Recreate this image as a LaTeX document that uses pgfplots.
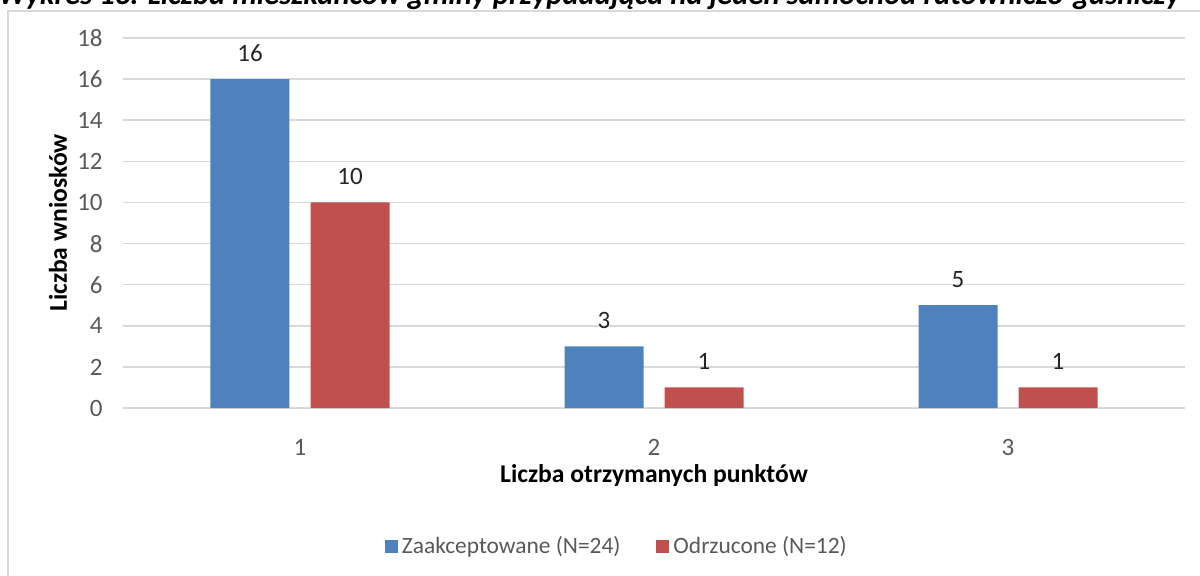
\documentclass[border=0pt]{standalone}
\usepackage{fontspec}
\setmainfont{Carlito}
\usepackage{pgfplots}
\pgfplotsset{compat=1.18}
\definecolor{zblue}{HTML}{4F81BD}
\definecolor{zred}{HTML}{C0504D}
\definecolor{gridgray}{HTML}{D9D9D9}
\definecolor{labgray}{HTML}{595959}
\definecolor{ink}{HTML}{262626}

\begin{document}
\begin{tikzpicture}
\useasboundingbox (0,0) rectangle (600pt,287.5pt);
\clip (0,0) rectangle (600pt,287.5pt);
% caption cut off by the frame above
\node[anchor=base west, inner sep=0pt, font=\fontsize{15.3}{17}\selectfont\bfseries\itshape]
  at (-1pt,285.5pt) {Wykres 13. Liczba mieszkańców gminy przypadająca na jeden samochód ratowniczo-gaśniczy};
\draw[gridgray, line width=1pt] (3.75pt,-5pt) -- (3.75pt,282.25pt) -- (610pt,282.25pt);
\begin{axis}[
  at={(61.5pt,83.5pt)}, anchor=south west,
  scale only axis, width=531pt, height=185pt,
  ybar=10.5pt, bar width=39.5pt,
  xmin=0.5, xmax=3.5, ymin=0, ymax=18,
  xtick={1,2,3}, ytick={0,2,...,18},
  axis line style={draw=none}, major tick length=0pt,
  ymajorgrids, grid style={gridgray, line width=0.75pt},
  /pgf/number format/assume math mode=true,
  tick label style={font=\fontsize{12.5}{14}\selectfont, color=labgray},
  yticklabel style={anchor=east, inner sep=0pt, xshift=-10pt},
  xticklabel style={anchor=center, inner sep=0pt, yshift=-19.5pt},
  xlabel={Liczba otrzymanych punktów},
  ylabel={Liczba wniosków},
  every axis x label/.style={at={(axis description cs:0.5,-0.1838)}, anchor=center, font=\fontsize{12.8}{14}\selectfont\bfseries},
  every axis y label/.style={at={(axis description cs:-0.0612,0.5)}, rotate=90, anchor=center, font=\fontsize{12.8}{14}\selectfont\bfseries},
  nodes near coords,
  every node near coord/.append style={font=\fontsize{12.5}{14}\selectfont, color=ink, anchor=center, yshift=13pt},
  legend columns=2,
  legend style={at={(0.466,-0.373)}, anchor=center, draw=none, fill=none,
    font=\fontsize{11.7}{13}\selectfont, text=labgray,
    /tikz/every even column/.append style={column sep=16pt}},
  legend image code/.code={\fill[#1] (0pt,-3.25pt) rectangle (6.5pt,3.25pt);},
]
\addplot[fill=zblue, draw=none] coordinates {(1,16) (2,3) (3,5)};
\addplot[fill=zred, draw=none] coordinates {(1,10) (2,1) (3,1)};
\legend{Zaakceptowane (N=24),Odrzucone (N=12)}
\end{axis}
\end{tikzpicture}
\end{document}
